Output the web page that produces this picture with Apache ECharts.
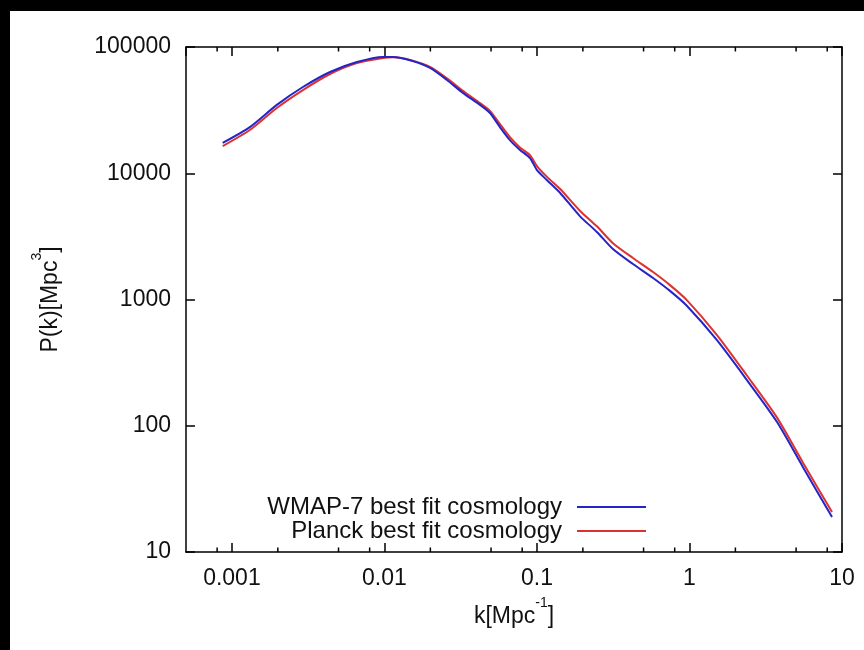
<!DOCTYPE html>
<html>
<head>
<meta charset="utf-8">
<script src="https://cdn.jsdelivr.net/npm/echarts@6/dist/echarts.min.js"></script>
<style>
html,body{margin:0;padding:0;background:#fff;}
#chart{width:864px;height:650px;}
</style>
</head>
<body>
<div id="chart"></div>
<script>
// ---- data ----
const kValues = [0.00087, 0.00131, 0.00197, 0.00292, 0.0044, 0.0066, 0.0098, 0.0114, 0.0153, 0.0199, 0.0257, 0.0327, 0.0423, 0.0492, 0.0572, 0.0665, 0.0774, 0.09, 0.1, 0.116, 0.142, 0.191, 0.247, 0.315, 0.426, 0.577, 0.745, 0.964, 1.51, 2.38, 3.75, 5.55, 8.6];
const pWmap7 = [17400, 23200, 34800, 48200, 63400, 76000, 83400, 83400, 77400, 68200, 54800, 43300, 34800, 30000, 23200, 18300, 15300, 13200, 10600, 8850, 6980, 4580, 3430, 2510, 1910, 1480, 1170, 889, 478, 230, 107, 47, 18.9];
const pPlanck = [16400, 22000, 32900, 45600, 61100, 74600, 81900, 82800, 78000, 69500, 56500, 45000, 36000, 31200, 24500, 19300, 16000, 13900, 11400, 9400, 7500, 5050, 3800, 2790, 2130, 1650, 1300, 985, 525, 250, 116, 51, 20.7];
const seriesNames = ['WMAP-7 best fit cosmology', 'Planck best fit cosmology'];
const xTickValues = [0.001, 0.01, 0.1, 1, 10];
const xTickLabels = ['0.001', '0.01', '0.1', '1', '10'];
const yTickValues = [10, 100, 1000, 10000, 100000];
const yTickLabels = ['10', '100', '1000', '10000', '100000'];
const xMinorTicks = [0.0008, 0.002, 0.005, 0.008, 0.02, 0.05, 0.08, 0.2, 0.5, 0.8, 2, 5, 8];
const yMinorTicks = [20,30,40,50,60,70,80,90, 200,300,400,500,600,700,800,900, 2000,3000,4000,5000,6000,7000,8000,9000, 20000,30000,40000,50000,60000,70000,80000,90000];
const xMin = 0.0005, xMax = 10, yMin = 10, yMax = 100000;

const FONT = '"Liberation Sans", Arial, Helvetica, sans-serif';
const FS = 23;

function labelFor(values, labels) {
  return function (v) {
    for (let i = 0; i < values.length; i++) {
      if (Math.abs(Math.log10(v) - Math.log10(values[i])) < 1e-6) return labels[i];
    }
    return '';
  };
}

const chart = echarts.init(document.getElementById('chart'), null, {renderer: 'canvas'});

const axisLine = {show: true, lineStyle: {color: '#000', width: 1.5}};
const majorTick = {show: true, inside: true, length: 9, lineStyle: {color: '#000', width: 1.5}};

function minorTickRender(isX) {
  return function (params, api) {
    const v = api.value(0);
    const len = 4.5;
    let a, b;
    if (isX) {
      a = api.coord([v, yMin]); b = api.coord([v, yMax]);
      return {type: 'group', children: [
        {type: 'line', shape: {x1: a[0], y1: a[1], x2: a[0], y2: a[1] - len}, style: {stroke: '#000', lineWidth: 1.5}},
        {type: 'line', shape: {x1: b[0], y1: b[1], x2: b[0], y2: b[1] + len}, style: {stroke: '#000', lineWidth: 1.5}}
      ]};
    } else {
      a = api.coord([xMin, v]); b = api.coord([xMax, v]);
      return {type: 'group', children: [
        {type: 'line', shape: {x1: a[0], y1: a[1], x2: a[0] + len, y2: a[1]}, style: {stroke: '#000', lineWidth: 1.5}},
        {type: 'line', shape: {x1: b[0], y1: b[1], x2: b[0] - len, y2: b[1]}, style: {stroke: '#000', lineWidth: 1.5}}
      ]};
    }
  };
}

const nameRich = {
  n: {fontFamily: FONT, fontSize: FS, color: '#111', verticalAlign: 'bottom'},
  sup: {fontFamily: FONT, fontSize: 14, color: '#111', verticalAlign: 'top', padding: [0, 0, 18, 0]}
};

const legendBase = {
  orient: 'vertical', align: 'right', right: 218, padding: 0,
  itemWidth: 69, itemHeight: 2, icon: 'rect',
  textStyle: {fontFamily: FONT, fontSize: 24, color: '#111', padding: [0, 10, 0, 0]}
};

const option = {
  animation: false,
  backgroundColor: '#fff',
  textStyle: {fontFamily: FONT},
  graphic: [
    {type: 'rect', left: 0, top: 0, shape: {width: 864, height: 11}, style: {fill: '#000'}, z: 100},
    {type: 'rect', left: 0, top: 0, shape: {width: 10, height: 650}, style: {fill: '#000'}, z: 100}
  ],
  grid: {left: 186, right: 22, top: 47, bottom: 98, containLabel: false},
  legend: [
    Object.assign({data: [seriesNames[0]], top: 495}, legendBase),
    Object.assign({data: [seriesNames[1]], top: 519}, legendBase)
  ],
  xAxis: [
    {
      type: 'log', logBase: 10, min: xMin, max: xMax, position: 'bottom',
      name: '{n|k[Mpc}{sup|-1}{n|]}', nameLocation: 'middle', nameGap: 44,
      nameTextStyle: {fontFamily: FONT, fontSize: FS, color: '#111', rich: nameRich},
      axisLine: axisLine, axisTick: majorTick, splitLine: {show: false}, minorTick: {show: false},
      axisLabel: {show: true, margin: 15, fontFamily: FONT, fontSize: FS, color: '#111',
        showMinLabel: false, showMaxLabel: true, formatter: labelFor(xTickValues, xTickLabels)}
    },
    {
      type: 'log', logBase: 10, min: xMin, max: xMax, position: 'top',
      axisLine: axisLine, axisTick: majorTick, axisLabel: {show: false}, splitLine: {show: false}
    }
  ],
  yAxis: [
    {
      type: 'log', logBase: 10, min: yMin, max: yMax, position: 'left',
      name: '{n|P(k)[Mpc}{sup|3}{n|]}', nameLocation: 'middle', nameGap: 124, nameRotate: 90,
      nameTextStyle: {fontFamily: FONT, fontSize: FS, color: '#111', rich: nameRich},
      axisLine: axisLine, axisTick: majorTick, splitLine: {show: false},
      axisLabel: {show: true, margin: 15, fontFamily: FONT, fontSize: FS, color: '#111',
        formatter: labelFor(yTickValues, yTickLabels)}
    },
    {
      type: 'log', logBase: 10, min: yMin, max: yMax, position: 'right',
      axisLine: axisLine, axisTick: majorTick, axisLabel: {show: false}, splitLine: {show: false}
    }
  ],
  series: [
    {
      name: seriesNames[0], type: 'line', xAxisIndex: 0, yAxisIndex: 0,
      data: kValues.map((k, i) => [k, pWmap7[i]]),
      symbol: 'none', smooth: 0.25,
      lineStyle: {color: '#2424c8', width: 2}, itemStyle: {color: '#2424c8'}, z: 3
    },
    {
      name: seriesNames[1], type: 'line', xAxisIndex: 0, yAxisIndex: 0,
      data: kValues.map((k, i) => [k, pPlanck[i]]),
      symbol: 'none', smooth: 0.25,
      lineStyle: {color: '#dc3232', width: 2}, itemStyle: {color: '#dc3232'}, z: 2
    },
    {
      type: 'custom', xAxisIndex: 0, yAxisIndex: 0, silent: true, clip: false,
      data: xMinorTicks.map(v => [v, yMin]), renderItem: minorTickRender(true), z: 5
    },
    {
      type: 'custom', xAxisIndex: 0, yAxisIndex: 0, silent: true, clip: false,
      data: yMinorTicks.map(v => [xMin, v]), renderItem: minorTickRender(false), z: 5
    }
  ]
};
chart.setOption(option);
</script>
</body>
</html>
